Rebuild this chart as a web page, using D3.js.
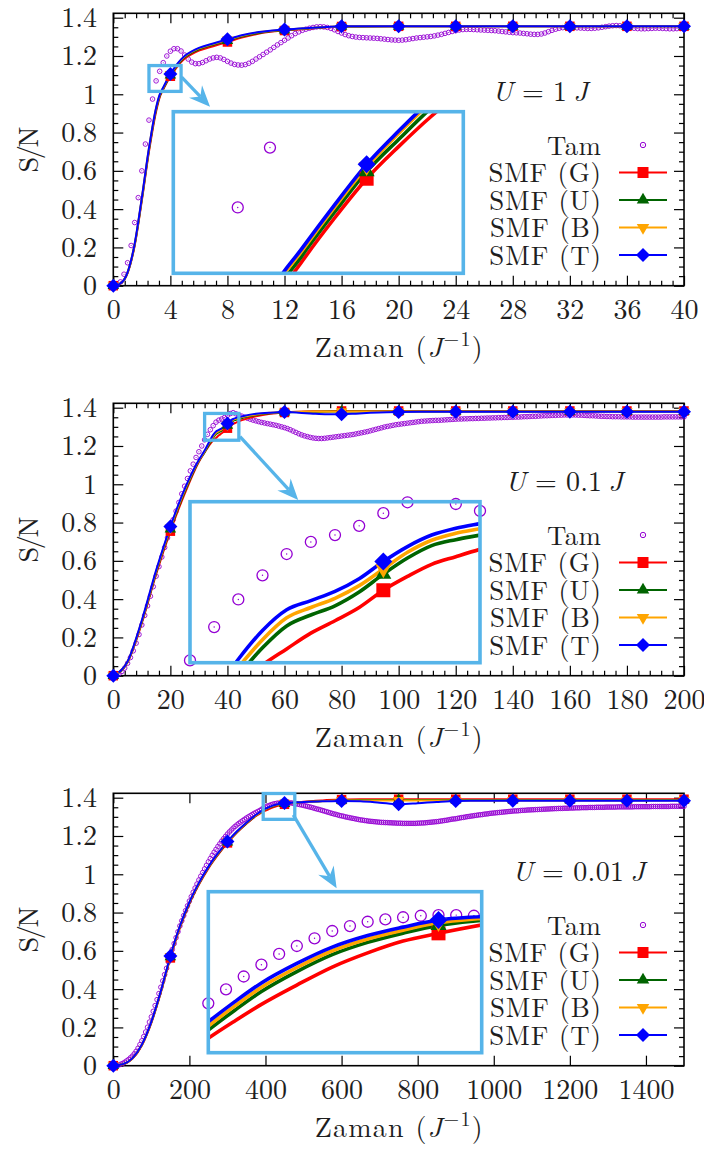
<!doctype html>
<html>
<head>
<meta charset="utf-8">
<script src="https://cdnjs.cloudflare.com/ajax/libs/d3/7.8.5/d3.min.js"></script>
<style>
  body { margin: 0; background: #fff; }
  svg { display: block; }
  text { fill: #1e1e1e; }
  .tick line { stroke-width: 1.2; }
</style>
</head>
<body>
<svg id="chart"></svg>
<script>
// exact solution ("Tam"), one value per output step
var tam1 = [
  0, 0.003, 0.02, 0.06, 0.12, 0.21, 0.33, 0.46,
  0.60, 0.74, 0.865, 0.975, 1.07, 1.12, 1.165, 1.20,
  1.225, 1.238, 1.238, 1.226, 1.205, 1.184, 1.168, 1.160,
  1.160, 1.166, 1.175, 1.184, 1.190, 1.193, 1.190, 1.182,
  1.172, 1.163, 1.156, 1.153, 1.152, 1.155, 1.162, 1.172,
  1.184, 1.196, 1.208, 1.220, 1.232, 1.245, 1.258, 1.270,
  1.282, 1.294, 1.306, 1.317, 1.326, 1.334, 1.340, 1.345,
  1.349, 1.352, 1.353, 1.352, 1.349, 1.344, 1.337, 1.328,
  1.320, 1.312, 1.306, 1.302, 1.299, 1.297, 1.296, 1.295,
  1.294, 1.293, 1.292, 1.290, 1.288, 1.286, 1.284, 1.283,
  1.282, 1.283, 1.285, 1.288, 1.291, 1.294, 1.296, 1.298,
  1.300, 1.302, 1.305, 1.309, 1.313, 1.318, 1.323, 1.328,
  1.332, 1.336, 1.338, 1.339, 1.339, 1.338, 1.337, 1.336,
  1.335, 1.334, 1.333, 1.332, 1.330, 1.328, 1.326, 1.324,
  1.322, 1.321, 1.320, 1.318, 1.316, 1.314, 1.313, 1.313,
  1.315, 1.320, 1.327, 1.334, 1.340, 1.345, 1.348, 1.349,
  1.349, 1.348, 1.347, 1.346, 1.345, 1.344, 1.344, 1.345,
  1.347, 1.350, 1.353, 1.356, 1.358, 1.359, 1.358, 1.355,
  1.352, 1.348, 1.345, 1.343, 1.342, 1.342, 1.343, 1.344,
  1.345, 1.345, 1.344, 1.343, 1.342, 1.342, 1.343, 1.344,
  1.345
];
var tam2 = [
  0, 0.002, 0.01, 0.022, 0.04, 0.065, 0.095, 0.13, 0.17, 0.215,
  0.265, 0.315, 0.365, 0.415, 0.465, 0.52, 0.57, 0.62, 0.67, 0.72,
  0.77, 0.815, 0.86, 0.905, 0.95, 0.99, 1.03, 1.07, 1.105, 1.14,
  1.17, 1.20, 1.232, 1.261, 1.285, 1.306, 1.3245, 1.335, 1.341, 1.349,
  1.36, 1.3695, 1.374, 1.368, 1.362, 1.356, 1.350, 1.345, 1.340, 1.335,
  1.331, 1.327, 1.323, 1.320, 1.317, 1.314, 1.311, 1.308, 1.304, 1.300,
  1.296, 1.291, 1.285, 1.278, 1.271, 1.264, 1.258, 1.253, 1.249, 1.245,
  1.242, 1.240, 1.239, 1.239, 1.240, 1.242, 1.244, 1.246, 1.248, 1.250,
  1.252, 1.254, 1.256, 1.258, 1.260, 1.263, 1.266, 1.269, 1.272, 1.275,
  1.279, 1.283, 1.287, 1.291, 1.295, 1.299, 1.302, 1.305, 1.308, 1.311,
  1.313, 1.315, 1.317, 1.319, 1.321, 1.323, 1.325, 1.327, 1.329, 1.330,
  1.331, 1.332, 1.333, 1.334, 1.334, 1.335, 1.336, 1.337, 1.338, 1.339,
  1.340, 1.341, 1.341, 1.342, 1.342, 1.343, 1.343, 1.344, 1.344, 1.345,
  1.345, 1.346, 1.346, 1.347, 1.347, 1.348, 1.348, 1.349, 1.349, 1.350,
  1.350, 1.351, 1.351, 1.352, 1.353, 1.353, 1.354, 1.355, 1.355, 1.356,
  1.357, 1.358, 1.358, 1.359, 1.360, 1.360, 1.361, 1.361, 1.362, 1.362,
  1.362, 1.362, 1.362, 1.361, 1.361, 1.360, 1.359, 1.358, 1.358, 1.357,
  1.356, 1.355, 1.355, 1.354, 1.354, 1.353, 1.353, 1.353, 1.352, 1.352,
  1.352, 1.352, 1.351, 1.351, 1.351, 1.351, 1.351, 1.351, 1.351, 1.351,
  1.351, 1.351, 1.351, 1.352, 1.352, 1.352, 1.352, 1.352, 1.352, 1.352,
  1.352
];
var tam3 = [
  0, 0.0005, 0.002, 0.004, 0.008, 0.012, 0.018, 0.025, 0.032, 0.041,
  0.05, 0.062, 0.075, 0.091, 0.11, 0.13, 0.152, 0.176, 0.201, 0.228,
  0.255, 0.284, 0.314, 0.345, 0.377, 0.41, 0.443, 0.476, 0.509, 0.542,
  0.575, 0.607, 0.638, 0.669, 0.70, 0.73, 0.757, 0.784, 0.81, 0.835,
  0.86, 0.883, 0.906, 0.928, 0.949, 0.97, 0.99, 1.009, 1.028, 1.047,
  1.065, 1.082, 1.099, 1.115, 1.13, 1.145, 1.159, 1.173, 1.186, 1.198,
  1.21, 1.221, 1.231, 1.241, 1.25, 1.258, 1.266, 1.273, 1.28, 1.287,
  1.294, 1.300, 1.306, 1.312, 1.318, 1.323, 1.328, 1.333, 1.3395, 1.3455,
  1.351, 1.356, 1.3597, 1.3633, 1.3667, 1.369, 1.371, 1.3721, 1.3731, 1.3738,
  1.3741, 1.3741, 1.3738, 1.373, 1.372, 1.370, 1.368, 1.366, 1.364, 1.362,
  1.360, 1.357, 1.355, 1.352, 1.350, 1.347, 1.344, 1.341, 1.339, 1.336,
  1.333, 1.330, 1.327, 1.324, 1.321, 1.318, 1.315, 1.313, 1.310, 1.307,
  1.305, 1.303, 1.300, 1.298, 1.296, 1.294, 1.292, 1.290, 1.288, 1.286,
  1.284, 1.283, 1.281, 1.280, 1.278, 1.277, 1.276, 1.275, 1.274, 1.273,
  1.272, 1.271, 1.271, 1.270, 1.270, 1.269, 1.269, 1.268, 1.268, 1.267,
  1.267, 1.267, 1.266, 1.266, 1.266, 1.266, 1.266, 1.266, 1.266, 1.266,
  1.267, 1.267, 1.268, 1.268, 1.269, 1.270, 1.271, 1.272, 1.273, 1.274,
  1.275, 1.276, 1.278, 1.279, 1.281, 1.282, 1.284, 1.286, 1.288, 1.289,
  1.290, 1.292, 1.294, 1.296, 1.297, 1.299, 1.301, 1.302, 1.304, 1.305,
  1.307, 1.308, 1.310, 1.311, 1.312, 1.314, 1.315, 1.316, 1.318, 1.319,
  1.320, 1.321, 1.322, 1.323, 1.324, 1.325, 1.326, 1.327, 1.328, 1.329,
  1.330, 1.331, 1.331, 1.332, 1.333, 1.334, 1.334, 1.335, 1.336, 1.336,
  1.337, 1.337, 1.338, 1.338, 1.339, 1.339, 1.340, 1.340, 1.341, 1.341,
  1.342, 1.342, 1.343, 1.343, 1.344, 1.344, 1.344, 1.345, 1.345, 1.345,
  1.346, 1.346, 1.346, 1.347, 1.347, 1.347, 1.348, 1.348, 1.348, 1.348,
  1.349, 1.349, 1.349, 1.349, 1.350, 1.350, 1.350, 1.350, 1.350, 1.351,
  1.351, 1.351, 1.351, 1.351, 1.351, 1.352, 1.352, 1.352, 1.352, 1.352,
  1.352, 1.352, 1.352, 1.352, 1.353, 1.353, 1.353, 1.353, 1.353, 1.353,
  1.353, 1.353, 1.353, 1.354, 1.354, 1.354, 1.354, 1.354, 1.354, 1.354,
  1.354, 1.354, 1.354, 1.355, 1.355, 1.355, 1.355, 1.355, 1.355, 1.355,
  1.355
];
var tamStep = [0.25, 1, 5];

// SMF curves, U = 1 J
var smfTime1 = [0, 0.5, 1, 1.5, 2, 2.5, 3, 3.25, 3.5, 3.75, 4, 4.25, 4.5, 4.75, 5, 5.5, 6, 7, 8, 9, 10, 11, 12, 13, 14, 15, 16, 20, 24, 28, 32, 36, 40];
var smfG1 = [0, 0.011, 0.066, 0.21, 0.445, 0.70, 0.91, 0.984, 1.025, 1.061, 1.094, 1.121, 1.146, 1.168, 1.186, 1.210, 1.228, 1.251, 1.273, 1.296, 1.314, 1.326, 1.333, 1.339, 1.345, 1.350, 1.354, 1.355, 1.355, 1.355, 1.355, 1.355, 1.355];
var smfU1 = [0, 0.0115, 0.068, 0.215, 0.452, 0.71, 0.92, 0.990, 1.030, 1.066, 1.100, 1.127, 1.153, 1.175, 1.193, 1.217, 1.235, 1.258, 1.280, 1.302, 1.318, 1.329, 1.335, 1.341, 1.346, 1.351, 1.354, 1.355, 1.355, 1.355, 1.355, 1.355, 1.355];
var smfB1 = [0, 0.012, 0.07, 0.219, 0.458, 0.718, 0.928, 0.996, 1.034, 1.070, 1.104, 1.132, 1.158, 1.180, 1.198, 1.222, 1.240, 1.263, 1.285, 1.306, 1.322, 1.331, 1.337, 1.342, 1.347, 1.351, 1.355, 1.355, 1.355, 1.355, 1.355, 1.355, 1.355];
var smfT1 = [0, 0.012, 0.07, 0.22, 0.46, 0.72, 0.93, 0.998, 1.036, 1.072, 1.106, 1.134, 1.160, 1.182, 1.200, 1.224, 1.242, 1.265, 1.287, 1.308, 1.323, 1.332, 1.338, 1.343, 1.348, 1.352, 1.355, 1.355, 1.355, 1.355, 1.355, 1.355, 1.355];

// U = 0.1 J
var smfTime2 = [0, 5, 10, 15, 20, 25, 30, 32, 33, 34, 35, 36, 37, 38, 39, 40, 41, 42, 43, 44, 46, 50, 55, 60, 65, 70, 75, 80, 85, 90, 100, 120, 140, 160, 180, 200];
var smfG2 = [0, 0.07, 0.275, 0.53, 0.755, 0.95, 1.118, 1.167, 1.19, 1.211, 1.228, 1.242, 1.2557, 1.2665, 1.278, 1.293, 1.305, 1.3155, 1.3222, 1.3286, 1.339, 1.355, 1.368, 1.375, 1.379, 1.381, 1.382, 1.383, 1.383, 1.383, 1.383, 1.383, 1.383, 1.383, 1.383, 1.383];
var smfU2 = [0, 0.072, 0.281, 0.538, 0.765, 0.96, 1.122, 1.168, 1.194, 1.219, 1.243, 1.262, 1.2715, 1.2795, 1.2915, 1.307, 1.321, 1.3318, 1.337, 1.341, 1.35, 1.362, 1.371, 1.376, 1.378, 1.379, 1.38, 1.38, 1.38, 1.38, 1.38, 1.38, 1.38, 1.38, 1.38, 1.38];
var smfB2 = [0, 0.074, 0.286, 0.544, 0.772, 0.968, 1.125, 1.172, 1.201, 1.226, 1.25, 1.269, 1.278, 1.286, 1.297, 1.3115, 1.326, 1.3365, 1.3425, 1.3465, 1.354, 1.365, 1.373, 1.377, 1.379, 1.38, 1.38, 1.38, 1.38, 1.38, 1.38, 1.38, 1.38, 1.38, 1.38, 1.38];
var smfT2 = [0, 0.075, 0.29, 0.55, 0.779, 0.975, 1.128, 1.176, 1.204, 1.233, 1.258, 1.276, 1.284, 1.292, 1.303, 1.318, 1.331, 1.341, 1.347, 1.351, 1.358, 1.368, 1.374, 1.377, 1.374, 1.369, 1.366, 1.366, 1.369, 1.373, 1.378, 1.379, 1.379, 1.379, 1.379, 1.379];

// U = 0.01 J
var smfTime3 = [0, 25, 50, 75, 100, 125, 150, 175, 200, 225, 250, 275, 300, 325, 350, 375, 385, 392.5, 400, 410, 420, 430, 440, 450, 462.5, 475, 500, 550, 600, 650, 700, 750, 800, 850, 900, 1000, 1050, 1100, 1200, 1300, 1350, 1400, 1500];
var smfG3 = [0, 0.007, 0.036, 0.106, 0.224, 0.382, 0.563, 0.72, 0.846, 0.946, 1.031, 1.101, 1.164, 1.218, 1.264, 1.3045, 1.3167, 1.3248, 1.3325, 1.3415, 1.3499, 1.3565, 1.362, 1.3656, 1.3696, 1.373, 1.379, 1.386, 1.39, 1.392, 1.392, 1.392, 1.392, 1.392, 1.392, 1.392, 1.392, 1.392, 1.392, 1.392, 1.392, 1.392, 1.392];
var smfU3 = [0, 0.0075, 0.037, 0.108, 0.227, 0.386, 0.568, 0.725, 0.85, 0.95, 1.035, 1.105, 1.167, 1.221, 1.266, 1.307, 1.3205, 1.3298, 1.3385, 1.3478, 1.3557, 1.3614, 1.3657, 1.3693, 1.3717, 1.3735, 1.377, 1.383, 1.386, 1.388, 1.388, 1.388, 1.388, 1.388, 1.388, 1.388, 1.388, 1.388, 1.388, 1.388, 1.388, 1.388, 1.388];
var smfB3 = [0, 0.008, 0.0375, 0.109, 0.229, 0.388, 0.571, 0.728, 0.853, 0.953, 1.038, 1.108, 1.169, 1.223, 1.268, 1.309, 1.3224, 1.3318, 1.3405, 1.3497, 1.3575, 1.363, 1.3671, 1.3705, 1.3726, 1.3742, 1.3775, 1.382, 1.385, 1.386, 1.386, 1.386, 1.386, 1.386, 1.386, 1.386, 1.386, 1.386, 1.386, 1.386, 1.386, 1.386, 1.386];
var smfT3 = [0, 0.008, 0.038, 0.11, 0.23, 0.39, 0.573, 0.73, 0.855, 0.955, 1.04, 1.11, 1.171, 1.225, 1.27, 1.311, 1.3244, 1.3338, 1.3425, 1.3516, 1.3592, 1.3646, 1.3685, 1.3718, 1.3735, 1.375, 1.378, 1.381, 1.383, 1.381, 1.374, 1.366, 1.371, 1.378, 1.383, 1.384, 1.384, 1.384, 1.384, 1.384, 1.384, 1.384, 1.384];

var tMax = [40, 200, 1500];
var xTickStep = [4, 20, 200];
var xMinorDiv = [5, 5, 1];
var markStep = [4, 20, 150];
var uLabels = ["1", "0.1", "0.01"];
var yTicks = [0, 0.2, 0.4, 0.6, 0.8, 1, 1.2, 1.4];
var legendNames = ["Tam", "SMF (G)", "SMF (U)", "SMF (B)", "SMF (T)"];

var width = 704, height = 1151;
var left = 113.3, right = 684, top0 = 13.3, bottom0 = 285.7, gap = 390;
var colors = {Tam: "#9400d3", G: "#ff0000", U: "#006400", B: "#ffa500", T: "#0000ff"};
var shapes = {G: "square", U: "up", B: "down", T: "diamond"};
var keys = ["G", "U", "B", "T"];
var sky = "#56b4e9";

var panels = [
  {tam: tam1, time: smfTime1, vals: {G: smfG1, U: smfU1, B: smfB1, T: smfT1}},
  {tam: tam2, time: smfTime2, vals: {G: smfG2, U: smfU2, B: smfB2, T: smfT2}},
  {tam: tam3, time: smfTime3, vals: {G: smfG3, U: smfU3, B: smfB3, T: smfT3}}
];
var insets = [
  {l: 173.3, r: 463.3, t: 111.7, b: 273.3, xd: [2.5, 4.75], yd: [1.015, 1.15],
   box: [[2.5, 1.015], [4.75, 1.15]], arrow: [[4.79, 1.09], [6.78, 0.935]], ux: 492, uw: 96},
  {l: 190, r: 480, t: 111.7, b: 272.7, xd: [32, 44], yd: [1.23, 1.37],
   box: [[32, 1.23], [44, 1.37]], arrow: [[44.4, 1.249], [64.8, 0.918]], ux: 505, uw: 118},
  {l: 208.3, r: 481.7, t: 111.7, b: 272.7, xd: [385, 462.2], yd: [1.31, 1.385],
   box: [[394, 1.287], [477, 1.422]], arrow: [[473, 1.31], [587, 0.927]], ux: 512, uw: 133}
];
var legendWidth = [54, 112.5, 111.7, 111, 111.7];

var svg = d3.select("#chart").attr("width", width).attr("height", height);
svg.append("rect").attr("width", width).attr("height", height).attr("fill", "#fff");

// use a serif face if one is installed, otherwise a light sans
function pickFont(list) {
  var t = svg.append("text").style("font-size", "40px").text("SMF (G) 0.8 Zaman");
  var found = "sans-serif";
  for (var k = 0; k < list.length; k++) {
    var ok = ["monospace", "cursive"].every(function(fb) {
      t.style("font-family", fb);
      var w0 = t.node().getComputedTextLength();
      t.style("font-family", "'" + list[k] + "', " + fb);
      return Math.abs(t.node().getComputedTextLength() - w0) > 0.5;
    });
    if (ok) { found = "'" + list[k] + "'"; break; }
  }
  t.remove();
  return found;
}
var fam = pickFont(["Latin Modern Roman", "CMU Serif", "Liberation Serif", "DejaVu Serif", "Noto Serif",
                    "Tinos", "Times New Roman", "FreeSerif", "Nimbus Roman", "Liberation Sans", "Arimo"]);
var probe = svg.append("text").style("font-family", fam).style("font-size", "40px").text("0.8");
var fs = Math.min(29, 40 * 35.8 / probe.node().getComputedTextLength());
probe.remove();

function markerPath(shape, s) {
  var h = s * 0.866;
  if (shape == "square") return "M" + (-s/2) + "," + (-s/2) + "h" + s + "v" + s + "h" + (-s) + "Z";
  if (shape == "up") return "M0," + (-h*2/3) + "L" + (s/2) + "," + (h/3) + "L" + (-s/2) + "," + (h/3) + "Z";
  if (shape == "down") return "M0," + (h*2/3) + "L" + (s/2) + "," + (-h/3) + "L" + (-s/2) + "," + (-h/3) + "Z";
  return "M0," + (-s/2) + "L" + (s/2) + ",0L0," + (s/2) + "L" + (-s/2) + ",0Z";
}
var sizeMain = {square: 9.5, up: 11.5, down: 11.5, diamond: 14};
var sizeInset = {square: 14, up: 16, down: 16, diamond: 18};
var sizeLegend = {square: 11, up: 12.5, down: 12.5, diamond: 14};

function isMult(t, s) { var q = t / s; return Math.abs(q - Math.round(q)) < 1e-6; }

function tamPoint(g, cx, cy, r, sw) {
  g.append("circle").attr("cx", cx).attr("cy", cy).attr("r", r)
    .attr("fill", "none").attr("stroke", colors.Tam).attr("stroke-width", sw);
  g.append("circle").attr("cx", cx).attr("cy", cy).attr("r", Math.max(0.5, r * 0.13))
    .attr("fill", colors.Tam);
}

function drawPanel(p, i) {
  var off = i * gap;
  var y0 = bottom0 + off, y1 = top0 + off;
  var x = d3.scaleLinear().domain([0, tMax[i]]).range([left, right]);
  var y = d3.scaleLinear().domain([0, 1.423]).range([y0, y1]);
  var g = svg.append("g");

  // ticks (inward, mirrored)
  var xt = d3.range(0, tMax[i] + 1e-9, xTickStep[i]);
  var xm = xMinorDiv[i] > 1 ? d3.range(0, tMax[i] + 1e-9, xTickStep[i] / xMinorDiv[i]).filter(function(t){ return !isMult(t, xTickStep[i]); }) : [];
  var ym = d3.range(0, 1.4201, 0.05).filter(function(v){ return !isMult(v, 0.2); });
  var none = function(){ return ""; };

  g.append("g").attr("transform", "translate(0," + y0 + ")")
    .call(d3.axisBottom(x).tickValues(xt).tickSize(-10).tickPadding(33 - 0.71 * fs).tickFormat(function(d){ return String(d); }));
  g.append("g").attr("transform", "translate(0," + y0 + ")")
    .call(d3.axisBottom(x).tickValues(xm).tickSize(-5).tickFormat(none));
  g.append("g").attr("transform", "translate(0," + y1 + ")")
    .call(d3.axisTop(x).tickValues(xt).tickSize(-10).tickFormat(none));
  g.append("g").attr("transform", "translate(0," + y1 + ")")
    .call(d3.axisTop(x).tickValues(xm).tickSize(-5).tickFormat(none));
  g.append("g").attr("transform", "translate(" + left + ",0)")
    .call(d3.axisLeft(y).tickValues(yTicks).tickSize(-10).tickPadding(16.3).tickFormat(function(d){ return String(+d.toFixed(1)); }));
  g.append("g").attr("transform", "translate(" + left + ",0)")
    .call(d3.axisLeft(y).tickValues(ym).tickSize(-5).tickFormat(none));
  g.append("g").attr("transform", "translate(" + right + ",0)")
    .call(d3.axisRight(y).tickValues(yTicks).tickSize(-10).tickFormat(none));
  g.append("g").attr("transform", "translate(" + right + ",0)")
    .call(d3.axisRight(y).tickValues(ym).tickSize(-5).tickFormat(none));
  g.selectAll(".domain").remove();
  g.selectAll(".tick text").style("font-size", fs + "px");

  g.append("rect").attr("x", left).attr("y", y1).attr("width", right - left).attr("height", y0 - y1)
    .attr("fill", "none").attr("stroke", "#000").attr("stroke-width", 1.6);

  // axis titles
  var xl = g.append("text").attr("x", (left + right) / 2).attr("y", y0 + 71)
    .attr("text-anchor", "middle").style("font-size", fs + "px")
    .attr("textLength", 168).attr("lengthAdjust", "spacing");
  xl.append("tspan").text("Zaman (");
  xl.append("tspan").style("font-style", "italic").text("J");
  xl.append("tspan").attr("dy", -11).style("font-size", (fs * 0.72) + "px").text("\u22121");
  xl.append("tspan").attr("dy", 11).text(")");
  g.append("text").attr("transform", "translate(38," + ((y0 + y1) / 2) + ") rotate(-90)")
    .attr("text-anchor", "middle").style("font-size", fs + "px")
    .attr("textLength", 46).attr("lengthAdjust", "spacing").text("S/N");

  // main data
  var main = g.append("g");
  p.tam.forEach(function(v, k) { tamPoint(main, x(k * tamStep[i]), y(v), 2.3, 0.9); });
  var line = d3.line().x(function(d){ return x(d[0]); }).y(function(d){ return y(d[1]); }).curve(d3.curveMonotoneX);
  keys.forEach(function(key) {
    main.append("path").attr("d", line(d3.zip(p.time, p.vals[key])))
      .attr("fill", "none").attr("stroke", colors[key]).attr("stroke-width", 2);
  });
  keys.forEach(function(key) {
    p.time.forEach(function(t, k) {
      if (!isMult(t, markStep[i])) return;
      main.append("path").attr("d", markerPath(shapes[key], sizeMain[shapes[key]]))
        .attr("transform", "translate(" + x(t) + "," + y(p.vals[key][k]) + ")").attr("fill", colors[key]);
    });
  });

  // zoom box and arrow
  var ins = insets[i];
  g.append("rect").attr("x", x(ins.box[0][0])).attr("y", y(ins.box[1][1]))
    .attr("width", x(ins.box[1][0]) - x(ins.box[0][0])).attr("height", y(ins.box[0][1]) - y(ins.box[1][1]))
    .attr("fill", "none").attr("stroke", sky).attr("stroke-width", 3.3);
  var ax0 = x(ins.arrow[0][0]), ay0 = y(ins.arrow[0][1]), ax1 = x(ins.arrow[1][0]), ay1 = y(ins.arrow[1][1]);
  var dx = ax1 - ax0, dy = ay1 - ay0, len = Math.sqrt(dx*dx + dy*dy), ux = dx / len, uy = dy / len;
  var hl = 21, hw = 9, notch = 14;
  g.append("line").attr("x1", ax0).attr("y1", ay0).attr("x2", ax1 - ux * notch).attr("y2", ay1 - uy * notch)
    .attr("stroke", sky).attr("stroke-width", 3.3);
  g.append("path").attr("fill", sky).attr("d",
    "M" + ax1 + "," + ay1 +
    "L" + (ax1 - ux*hl - uy*hw) + "," + (ay1 - uy*hl + ux*hw) +
    "L" + (ax1 - ux*notch) + "," + (ay1 - uy*notch) +
    "L" + (ax1 - ux*hl + uy*hw) + "," + (ay1 - uy*hl - ux*hw) + "Z");

  // inset
  var ix = d3.scaleLinear().domain(ins.xd).range([ins.l, ins.r]);
  var iy = d3.scaleLinear().domain(ins.yd).range([ins.b + off, ins.t + off]);
  var cid = "clip" + i;
  svg.append("defs").append("clipPath").attr("id", cid).append("rect")
    .attr("x", ins.l).attr("y", ins.t + off).attr("width", ins.r - ins.l).attr("height", ins.b - ins.t);
  g.append("rect").attr("x", ins.l).attr("y", ins.t + off).attr("width", ins.r - ins.l).attr("height", ins.b - ins.t)
    .attr("fill", "#fff");
  var ig = g.append("g");
  var eps = 1e-6;
  p.tam.forEach(function(v, k) {
    var t = k * tamStep[i];
    if (t < ins.xd[0] - eps || t > ins.xd[1] + eps || v < ins.yd[0] - eps || v > ins.yd[1] + eps) return;
    tamPoint(ig, ix(t), iy(v), 5.5, 1.3);
  });
  var iline = d3.line().x(function(d){ return ix(d[0]); }).y(function(d){ return iy(d[1]); }).curve(d3.curveMonotoneX);
  var lg = ig.append("g").attr("clip-path", "url(#" + cid + ")");
  keys.forEach(function(key) {
    lg.append("path").attr("d", iline(d3.zip(p.time, p.vals[key])))
      .attr("fill", "none").attr("stroke", colors[key]).attr("stroke-width", 3.6);
  });
  keys.forEach(function(key) {
    p.time.forEach(function(t, k) {
      var v = p.vals[key][k];
      if (!isMult(t, markStep[i]) || t < ins.xd[0] || t > ins.xd[1] || v < ins.yd[0] || v > ins.yd[1]) return;
      ig.append("path").attr("d", markerPath(shapes[key], sizeInset[shapes[key]]))
        .attr("transform", "translate(" + ix(t) + "," + iy(v) + ")").attr("fill", colors[key]);
    });
  });
  g.append("rect").attr("x", ins.l).attr("y", ins.t + off).attr("width", ins.r - ins.l).attr("height", ins.b - ins.t)
    .attr("fill", "none").attr("stroke", sky).attr("stroke-width", 3.6);

  // U label
  var ut = g.append("text").attr("x", ins.ux).attr("y", off + 100.5).style("font-size", fs + "px")
    .attr("textLength", ins.uw).attr("lengthAdjust", "spacing");
  ut.append("tspan").style("font-style", "italic").text("U");
  ut.append("tspan").attr("dx", 9).text("=");
  ut.append("tspan").attr("dx", 9).text(uLabels[i]);
  ut.append("tspan").attr("dx", 6).style("font-style", "italic").text("J");

  // legend
  legendNames.forEach(function(name, k) {
    var cy = off + 145 + 27.5 * k;
    g.append("text").attr("x", 601).attr("y", cy + 0.34 * fs).attr("text-anchor", "end")
      .style("font-size", (fs * 0.96) + "px").attr("textLength", legendWidth[k]).attr("lengthAdjust", "spacing").text(name);
    if (k == 0) { tamPoint(g, 643, cy, 2.7, 1); return; }
    var key = keys[k - 1];
    g.append("line").attr("x1", 619).attr("x2", 667).attr("y1", cy).attr("y2", cy)
      .attr("stroke", colors[key]).attr("stroke-width", 2);
    g.append("path").attr("d", markerPath(shapes[key], sizeLegend[shapes[key]]))
      .attr("transform", "translate(643," + cy + ")").attr("fill", colors[key]);
  });
}

panels.forEach(drawPanel);
svg.selectAll("text").style("font-family", fam);
</script>
</body>
</html>
